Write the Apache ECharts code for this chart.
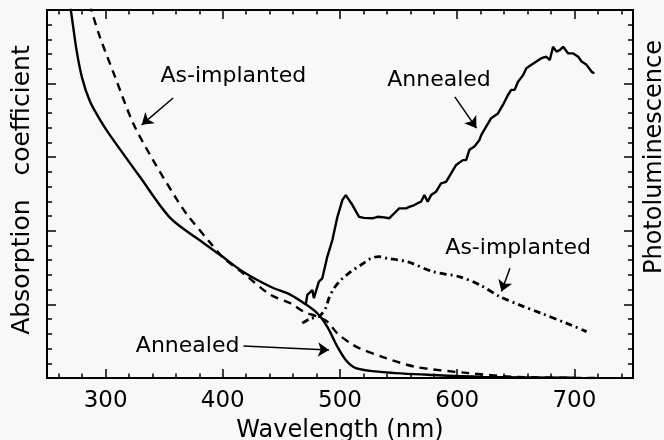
<!DOCTYPE html>
<html>
<head>
<meta charset="utf-8">
<script src="https://cdn.jsdelivr.net/npm/echarts@6/dist/echarts.min.js"></script>
<style>
html, body { margin: 0; padding: 0; background: #f8f8f8; }
#chart { width: 664px; height: 440px; }
</style>
</head>
<body>
<div id="chart"></div>
<script>
// wavelength (nm) vs arbitrary units (0-100 of plot height)
const absAnnealed = [
  [267, 106], [270.3, 100], [275.2, 89.1], [280, 81.5], [286.6, 75.2], [295, 70.3],
  [303.7, 66], [329.4, 54.6], [355.1, 43.5], [380, 37.5], [397.9, 33.4], [417.6, 28.8],
  [440.7, 24.8], [457.8, 22.6], [469, 20.4], [480.6, 17.6], [489.2, 13.9], [497.8, 8.5],
  [504.9, 4.9], [513.4, 2.7], [536.6, 1.6], [579.4, 0.8], [622.2, 0.3], [700, 0.1]
]
const absAsImplanted = [
  [284.8, 105.4], [288, 100], [295.1, 92.7], [308, 81.9], [323.4, 69.3], [340.5, 59.2],
  [361, 48.4], [369.3, 44.5], [389.1, 36.8], [400, 32.8], [420, 27.8], [440.7, 22.6],
  [457.8, 20.3], [469.2, 18], [480.6, 16.7], [489.2, 15.3], [497.8, 12.1], [509.2, 9.4],
  [516.3, 8.1], [536.6, 5.7], [564.8, 3.0], [607.6, 1.4], [650.4, 0.3], [720, 0]
]
const plAnnealed = [
  [470.7, 19.8], [472.1, 22.6], [476.4, 23.9], [477.7, 21.7], [482, 26.2], [484.9, 27.1],
  [489.2, 33], [493.5, 37.5], [497.8, 43.8], [502.1, 48.4], [504.9, 49.7], [510.6, 47],
  [516.3, 43.8], [520.5, 43.5], [527.7, 43.4], [532, 43.8], [536.3, 43.7], [541.9, 43.4],
  [544.9, 44.3], [550.5, 46.1], [556.3, 46.1], [559.1, 46.5], [563.4, 47], [566.3, 47.5],
  [569.1, 47.9], [572, 49.7], [574.8, 47.9], [577.7, 49.7], [581.9, 50.6], [586.2, 52.9],
  [590.5, 53.3], [594.8, 55.6], [599.1, 57.9], [604.8, 59.2], [607.6, 59.2], [610.4, 62],
  [614.7, 62.9], [619, 64.7], [620.5, 66], [624.7, 68.3], [629, 70.6], [634.8, 71.9],
  [639, 74.2], [643.3, 76.9], [646.1, 78.3], [649, 78.3], [651.9, 80.5], [656.2, 82.3],
  [659, 84.2], [663.3, 85.1], [667.6, 86], [671.8, 86.9], [676.1, 87.3], [679, 86.4],
  [681.8, 90], [684.7, 88.7], [687.5, 89.1], [690.4, 90], [694.7, 88.2], [699, 88.2],
  [703.3, 87.3], [706.1, 86], [710.4, 85.1], [714.7, 83.2], [717, 82.8]
]
const plAsImplanted = [
  [467.8, 14.9], [474.9, 16.2], [482, 16.7], [487.8, 19], [490.6, 21.7], [494.9, 24.4],
  [500.6, 26.6], [509.2, 28.9], [517.8, 30.7], [526.3, 32.5], [533.4, 33], [540.6, 32.5],
  [549.1, 32.1], [557.7, 31.6], [579.4, 28.9], [602.2, 27.5], [619.3, 25.3], [636.5, 22.1],
  [653.6, 19.8], [670.7, 17.7], [693.2, 14.9], [710.4, 12.6]
]

const majorTicks = [300, 400, 500, 600, 700]
const minorTicks = [260, 280, 320, 340, 360, 380, 420, 440, 460, 480, 520, 540, 560, 580,
  620, 640, 660, 680, 720, 740]

// annotations: [text, wavelength, value]
const notes = [
  ['As-implanted', 409, 81.9],
  ['Annealed', 584.5, 81],
  ['Annealed', 370, 8.7],
  ['As-implanted', 652, 35.2]
]
// arrows: [fromWl, fromVal, toWl, toVal]
const arrows = [
  [357.6, 76.1, 330.8, 68.8],
  [598, 76.4, 616.4, 67.9],
  [417.6, 8.7, 490.6, 7.6],
  [645, 29.8, 637.8, 23.5]
]

const font = 'DejaVu Sans'
const ink = '#000'

const xTickAxis = (position, values, len, labels) => ({
  type: 'value',
  position,
  min: 250,
  max: 750,
  axisLine: { show: true, lineStyle: { color: ink, width: 2 } },
  axisTick: { show: true, inside: true, length: len, customValues: values, lineStyle: { color: ink, width: 1.5 } },
  axisLabel: labels
    ? { show: true, customValues: values, color: ink, fontSize: 23, fontFamily: font, margin: 12 }
    : { show: false },
  splitLine: { show: false }
})

const yTickAxis = (position, name, nameOpts) => ({
  type: 'value',
  position,
  min: 0,
  max: 100,
  interval: 20,
  axisLine: { show: true, lineStyle: { color: ink, width: 2 } },
  axisTick: { show: true, inside: true, length: 9, lineStyle: { color: ink, width: 1.5 } },
  minorTick: { show: true, splitNumber: 5, length: 5, lineStyle: { color: ink, width: 1.5 } },
  axisLabel: { show: false },
  splitLine: { show: false },
  name,
  nameLocation: 'middle',
  nameRotate: 90,
  ...nameOpts
})

const chart = echarts.init(document.getElementById('chart'))

const option = {
  backgroundColor: '#f8f8f8',
  animation: false,
  grid: { left: 47, right: 31, top: 10, bottom: 62, containLabel: false, outerBoundsMode: 'none' },
  xAxis: [
    {
      ...xTickAxis('bottom', majorTicks, 9, true),
      name: 'Wavelength (nm)',
      nameLocation: 'middle',
      nameGap: 41,
      nameTextStyle: { color: ink, fontSize: 24, fontFamily: font }
    },
    xTickAxis('bottom', minorTicks, 4.5, false),
    xTickAxis('top', majorTicks, 9, false),
    xTickAxis('top', minorTicks, 4.5, false)
  ],
  yAxis: [
    yTickAxis('left', 'Absorption   coefficient', {
      nameGap: 12,
      nameTextStyle: { color: ink, fontSize: 25, fontFamily: font, padding: [0, 0, 0, 8] }
    }),
    yTickAxis('right', 'Photoluminescence', {
      nameGap: 10,
      nameTextStyle: { color: ink, fontSize: 24, fontFamily: font, padding: [0, 0, 0, 74] }
    })
  ],
  series: [
    {
      name: 'Absorption annealed',
      type: 'line',
      data: absAnnealed,
      smooth: 0.3,
      showSymbol: false,
      lineStyle: { color: ink, width: 2.4 },
      markPoint: {
        symbol: 'circle',
        symbolSize: 0,
        label: {
          show: true,
          position: 'inside',
          color: ink,
          fontSize: 22,
          fontFamily: font,
          formatter: p => p.name
        },
        data: notes.map(n => ({ name: n[0], coord: [n[1], n[2]] }))
      },
      markLine: {
        silent: true,
        symbol: ['none', 'arrow'],
        symbolSize: 11,
        label: { show: false },
        itemStyle: { color: ink },
        lineStyle: { color: ink, width: 1.5, type: 'solid' },
        data: arrows.map(a => [{ coord: [a[0], a[1]] }, { coord: [a[2], a[3]] }])
      }
    },
    {
      name: 'Absorption as-implanted',
      type: 'line',
      data: absAsImplanted,
      smooth: 0.3,
      showSymbol: false,
      lineStyle: { color: ink, width: 2.4, type: [8, 6] }
    },
    {
      name: 'PL annealed',
      type: 'line',
      yAxisIndex: 1,
      data: plAnnealed,
      showSymbol: false,
      lineStyle: { color: ink, width: 2.4 }
    },
    {
      name: 'PL as-implanted',
      type: 'line',
      yAxisIndex: 1,
      data: plAsImplanted,
      smooth: 0.3,
      showSymbol: false,
      lineStyle: { color: ink, width: 2.8, type: [7, 4, 2, 4] }
    }
  ]
}

chart.setOption(option)
window.addEventListener('resize', () => chart.resize())
</script>
</body>
</html>
